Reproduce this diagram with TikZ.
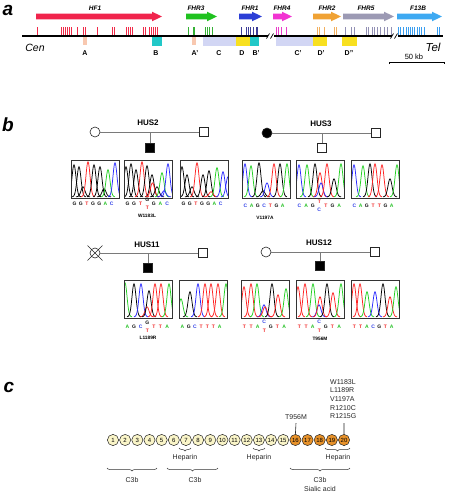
\documentclass[tikz,border=0pt]{standalone}
\usepackage{fontspec}
\setmainfont{Liberation Sans}
\usetikzlibrary{decorations.pathreplacing}
\definecolor{hfred}{HTML}{F0244C}
\definecolor{fhrthree}{HTML}{1FC21F}
\definecolor{fhrone}{HTML}{2B3ED6}
\definecolor{fhrfour}{HTML}{F233D2}
\definecolor{fhrtwo}{HTML}{F0A234}
\definecolor{fhrfive}{HTML}{9C9AB4}
\definecolor{fxiiib}{HTML}{3DA9F2}
\definecolor{tkred}{HTML}{F02A48}
\definecolor{tkgreen}{HTML}{35B035}
\definecolor{tkblue}{HTML}{3C3C96}
\definecolor{tkmag}{HTML}{E83CC8}
\definecolor{tkorange}{HTML}{F2B060}
\definecolor{tkgrey}{HTML}{9290B4}
\definecolor{tkltblue}{HTML}{3A9EF0}
\definecolor{bsalmon}{HTML}{F8C8B0}
\definecolor{bcyan}{HTML}{22C8C8}
\definecolor{blav}{HTML}{D2D6F4}
\definecolor{byellow}{HTML}{F8E020}
\definecolor{pale}{HTML}{FAF5C8}
\definecolor{dorange}{HTML}{E8922A}
\definecolor{tb}{HTML}{000000}
\definecolor{tr}{HTML}{FF2222}
\definecolor{tg}{HTML}{22D022}
\definecolor{tu}{HTML}{2A2AFF}
\definecolor{nA}{HTML}{22C022}
\definecolor{nC}{HTML}{3040E8}
\definecolor{nG}{HTML}{111111}
\definecolor{nT}{HTML}{F02828}
\definecolor{pedline}{HTML}{7A7A7A}

\newcommand\pk[4]{%
  \pgfmathsetmacro\pka{#1-7}\pgfmathsetmacro\pkb{#1+7}%
  \draw[color=#4,trace] plot[domain=\pka:\pkb,samples=25,smooth] (\x,{#2-#3*exp(-((\x-#1)^2)/8)});}
\newcommand\chrom[3]{%
  \begin{scope}
  \clip (#1,#2) rectangle ++(48,38);
  \foreach \p/\h/\c in {#3}{\pgfmathsetmacro\px{#1+\p}\pk{\px}{#2+36.8}{\h}{\c}}
  \end{scope}
  \draw[boxline] (#1,#2) rectangle ++(48,38);}
\newcommand\bases[4]{%
  \foreach[count=\i] \l/\c in {#4}{\node[nuc,text=\c] (q#1n\i) at ({#1+3.5+(\i-1)*#3},#2) {\l};}}
\newcommand\genearrow[4]{%
  \fill[#4] (#1,#3-2.8) -- (#2-10,#3-2.8) -- (#2-10,#3-4.8) -- (#2,#3) -- (#2-10,#3+4.8) -- (#2-10,#3+2.8) -- (#1,#3+2.8) -- cycle;}
\newcommand\ticks[2]{%
  \foreach \tx in {#2} \fill[#1] ({\tx-0.5},27) rectangle ({\tx+0.5},35.5);}

\begin{document}
\begin{tikzpicture}[x=1pt,y=-1pt,
  panel/.style={font=\fontsize{19}{20}\selectfont\bfseries\itshape},
  gene/.style={font=\fontsize{6.5}{7}\selectfont\bfseries\itshape},
  blbl/.style={font=\fontsize{7}{8}\selectfont\bfseries},
  hus/.style={font=\fontsize{8}{9}\selectfont\bfseries},
  mut/.style={font=\fontsize{4.8}{5}\selectfont\bfseries},
  nuc/.style={font=\fontsize{5}{5}\selectfont\bfseries,inner sep=0pt},
  trace/.style={line width=0.75pt},
  boxline/.style={draw=black!80,line width=0.75pt},
  ped/.style={draw=pedline,line width=0.75pt},
  pcirc/.style={circle,draw=black!85,line width=0.6pt,minimum size=10pt,inner sep=0pt},
  psq/.style={rectangle,draw=black!85,line width=0.6pt,minimum size=8.5pt,inner sep=0pt},
  dom/.style={circle,draw=black!85,line width=0.5pt,minimum size=11.2pt,inner sep=0pt,font=\fontsize{6}{6}\selectfont},
  clbl/.style={font=\fontsize{7}{8}\selectfont,text=black!85},
  brc/.style={decorate,decoration={brace,mirror,amplitude=3pt},line width=0.5pt,black!80}
]
\useasboundingbox (0,0) rectangle (448,496);

%================ panel a
\node[panel] (pa) at (8,10) {a};
\genearrow{36}{162}{16.5}{hfred}
\genearrow{186}{217}{16.5}{fhrthree}
\genearrow{239}{262}{16.5}{fhrone}
\genearrow{273}{292}{16.5}{fhrfour}
\genearrow{313}{341}{16.5}{fhrtwo}
\genearrow{343}{394}{16.5}{fhrfive}
\genearrow{397}{442}{16.5}{fxiiib}
\node[gene] (gHF) at (95,8.5) {HF1};
\node[gene] (gR3) at (196,8.5) {FHR3};
\node[gene] (gR1) at (250,8.5) {FHR1};
\node[gene] (gR4) at (282,8.5) {FHR4};
\node[gene] (gR2) at (327,8.5) {FHR2};
\node[gene] (gR5) at (366,8.5) {FHR5};
\node[gene] (gXB) at (418,8.5) {F13B};

% feature boxes
\fill[bsalmon] (83,37) rectangle (87,45);
\fill[bcyan] (152,37) rectangle (162,46);
\fill[bsalmon] (192,37) rectangle (196,45);
\fill[blav] (203,37) rectangle (236,46);
\fill[byellow] (236,37) rectangle (250,46);
\fill[bcyan] (250,37) rectangle (259,46);
\fill[blav] (276,37) rectangle (313,46);
\fill[byellow] (313,37) rectangle (327,46);
\fill[byellow] (342,37) rectangle (357,46);

% ticks
\ticks{tkred}{37,61,63,65,67,69,71,77,83,85,97,112,114.5,126,128,130,132,143,145,149,151,153,155,157}
\ticks{tkgreen}{188,193,194.5,205,207,209,212}
\ticks{tkblue}{241,246,248,250,253,256,257.5}
\ticks{tkmag}{276,278,281,286}
\ticks{tkorange}{317,319,324,334,336}
\ticks{tkgrey}{345,351,354,366,368,372,374,377,380,384,387,391}
\ticks{tkltblue}{398,400,403,406,408,410,412,414,417,419,421,424,437,439}

% chromosome line with breaks
\coordinate (cenend) at (22,36);
\coordinate (br1a) at (268,36);
\coordinate (br1b) at (274,36);
\coordinate (br2a) at (392,36);
\coordinate (br2b) at (398,36);
\coordinate (telend) at (443,36);
\draw[line width=1.6pt] (cenend) -- (br1a) (br1b) -- (br2a) (br2b) -- (telend);
\draw[line width=0.7pt] (266.5,38.5) -- (269.5,33.5) (270.5,38.5) -- (273.5,33.5);
\draw[line width=0.7pt] (390.5,38.5) -- (393.5,33.5) (394.5,38.5) -- (397.5,33.5);

\node[blbl] (lA) at (85,53) {A};
\node[blbl] (lB) at (156,53) {B};
\node[blbl] (lA2) at (195,53) {A'};
\node[blbl] (lC) at (219,53) {C};
\node[blbl] (lD) at (242,53) {D};
\node[blbl] (lB2) at (256,53) {B'};
\node[blbl] (lC2) at (298,53) {C'};
\node[blbl] (lD2) at (321,53) {D'};
\node[blbl] (lD3) at (349,53) {D''};
\node[font=\fontsize{10.5}{11}\selectfont\itshape] (cen) at (35,48) {Cen};
\node[font=\fontsize{11.5}{12}\selectfont\itshape] (tel) at (433,47) {Tel};
\coordinate (sb1) at (389,62);
\coordinate (sb2) at (444,62);
\draw[line width=0.7pt] ([yshift=-2pt]sb1) -- (sb1) -- (sb2) -- ([yshift=-2pt]sb2);
\node[font=\fontsize{7.5}{8}\selectfont] (kb) at (414,57) {50 kb};

%================ panel b
\node[panel] (pb) at (8,125) {b};

% HUS2
\node[hus] (h2) at (148,123) {HUS2};
\node[pcirc] (h2m) at (95,132) {};
\node[psq] (h2f) at (204,132) {};
\coordinate (h2j) at (150,132);
\node[psq,fill=black] (h2c) at (150,148) {};
\draw[ped] (h2m) -- (h2f);
\draw[ped] (h2j) -- (h2c);
\chrom{71}{160}{3/32/tb,8/30/tb,12/10/tb,17/35/tr,23/32/tb,29/30/tb,33/8/tb,37/27/tg,44/34/tu}
\chrom{124}{160}{2/30/tb,7/33/tb,12/27/tb,18/35/tr,23/31/tb,28/22/tb,28.5/14/tr,33/10/tb,38/24/tg,40/6/tu,44/33/tu}
\chrom{180}{160}{2/30/tb,7/22/tb,12/10/tb,17/34/tr,23/22/tb,29/26/tb,31/5/tr,37/29/tg,43/25/tu,48/20/tu}
\bases{71}{204}{6.2}{G/nG,G/nG,T/nT,G/nG,G/nG,A/nA,C/nC}
\bases{124}{204}{6.6}{G/nG,G/nG,T/nT,/nG,G/nG,A/nA,C/nC}
\bases{180}{204}{6.2}{G/nG,G/nG,T/nT,G/nG,G/nG,A/nA,C/nC}
\node[nuc,text=nG] (h2u) at (147.3,200) {G};
\node[nuc,text=nT] (h2d) at (147.3,208) {T};
\node[mut] (m2) at (147,216) {W1183L};

% HUS3
\node[hus] (h3) at (321,124) {HUS3};
\node[pcirc,fill=black] (h3m) at (267,133) {};
\node[psq] (h3f) at (376,133) {};
\coordinate (h3j) at (322,133);
\node[psq] (h3c) at (322,148) {};
\draw[ped] (h3m) -- (h3f);
\draw[ped] (h3j) -- (h3c);
\chrom{242}{160}{3/33/tu,9/31/tg,17/34/tb,21/6/tb,25/14/tu,32/33/tr,38/33/tb,45/33/tg}
\chrom{296}{160}{3/32/tu,11/32/tg,19/33/tb,24/24/tr,25/14/tu,31/33/tr,38/18/tb,45/33/tg}
\chrom{351}{160}{3/32/tu,12/31/tg,19/33/tb,24/33/tr,31/32/tr,39/18/tb,46/32/tg}
\bases{242}{206}{6.2}{C/nC,A/nA,G/nG,C/nC,T/nT,G/nG,A/nA}
\bases{296}{206}{6.6}{C/nC,A/nA,G/nG,/nG,T/nT,G/nG,A/nA}
\bases{351}{206}{6.2}{C/nC,A/nA,G/nG,T/nT,T/nT,G/nG,A/nA}
\node[nuc,text=nT] (h3u) at (319.3,202) {T};
\node[nuc,text=nC] (h3d) at (319.3,210) {C};
\node[mut] (m3) at (265,218) {V1197A};

% HUS11
\node[hus] (h11) at (147,245) {HUS11};
\node[pcirc] (h11m) at (95,253) {};
\draw[line width=0.6pt,black!85] ([shift={(-7.5,-7.5)}]h11m.center) -- ([shift={(7.5,7.5)}]h11m.center)
  ([shift={(-7.5,7.5)}]h11m.center) -- ([shift={(7.5,-7.5)}]h11m.center);
\node[psq] (h11f) at (203,253) {};
\coordinate (h11j) at (148,253);
\node[psq,fill=black] (h11c) at (148,268) {};
\draw[ped] (h11m) -- (h11f);
\draw[ped] (h11j) -- (h11c);
\chrom{124}{280}{1/34/tg,10/33/tb,17/33/tu,23/10/tr,25/26/tb,31/33/tr,37/33/tr,45/33/tg}
\chrom{179}{280}{2/18/tg,11/25/tb,19/33/tu,26/33/tr,32/33/tr,39/33/tr,47/33/tg}
\bases{124}{327}{6.6}{A/nA,G/nG,C/nC,/nG,T/nT,T/nT,A/nA}
\bases{179}{327}{6.2}{A/nA,G/nG,C/nC,T/nT,T/nT,T/nT,A/nA}
\node[nuc,text=nG] (h11u) at (147.3,323) {G};
\node[nuc,text=nT] (h11d) at (147.3,331) {T};
\node[mut] (m11) at (148,338) {L1189R};

% HUS12
\node[hus] (h12) at (319,243) {HUS12};
\node[pcirc] (h12m) at (266,252) {};
\node[psq] (h12f) at (375,252) {};
\coordinate (h12j) at (320,252);
\node[psq,fill=black] (h12c) at (320,266) {};
\draw[ped] (h12m) -- (h12f);
\draw[ped] (h12j) -- (h12c);
\chrom{241}{280}{3/30/tr,10/33/tr,16/33/tg,23/12/tu,24/10/tr,31/33/tb,37/22/tr,45/28/tg}
\chrom{296}{280}{2/30/tr,9/33/tr,17/33/tg,23/12/tu,24/20/tr,31/33/tb,37/24/tr,45/33/tg}
\chrom{351}{280}{3/33/tr,9/33/tr,16/25/tg,24/25/tu,32/33/tb,39/20/tr,45/30/tg}
\bases{241}{327}{6.6}{T/nT,T/nT,A/nA,/nG,G/nG,T/nT,A/nA}
\bases{296}{327}{6.6}{T/nT,T/nT,A/nA,/nG,G/nG,T/nT,A/nA}
\bases{351}{327}{6.2}{T/nT,T/nT,A/nA,C/nC,G/nG,T/nT,A/nA}
\node[nuc,text=nC] (h12u1) at (264.3,322) {C};
\node[nuc,text=nT] (h12d1) at (264.3,331) {T};
\node[nuc,text=nC] (h12u2) at (319.3,322) {C};
\node[nuc,text=nT] (h12d2) at (319.3,331) {T};
\node[mut] (m12) at (320,339) {T956M};

%================ panel c
\node[panel] (pc) at (9,387) {c};
\foreach \i in {1,...,15}
  \node[dom,fill=pale] (d\i) at ({113+12.16*(\i-1)},440) {\i};
\foreach \i in {16,...,20}
  \node[dom,fill=dorange] (d\i) at ({113+12.16*(\i-1)},440) {\i};

\node[clbl] (t956) at (296,417) {T956M};
\draw[line width=0.6pt,black!85] (t956.south) -- (d16.north);
\node[clbl,align=left,anchor=north west,inner sep=0pt,font=\fontsize{7}{8.7}\selectfont] (mlist) at (330,379)
  {W1183L\\L1189R\\V1197A\\R1210C\\R1215G};
\coordinate (mlb) at (344,423);
\draw[line width=0.6pt,black!85] (mlb) -- (d20.north);

\draw[brc] (179,448) -- (191,448);
\node[clbl] (hp1) at (185,458) {Heparin};
\draw[brc] (253,448) -- (265,448);
\node[clbl] (hp2) at (259,458) {Heparin};
\draw[brc] (325,448) -- (350,448);
\node[clbl] (hp3) at (338,458) {Heparin};
\draw[brc] (107,468) -- (157,468);
\node[clbl] (c3a) at (132,480) {C3b};
\draw[brc] (167,468) -- (218,468);
\node[clbl] (c3b) at (195,480) {C3b};
\draw[brc] (290,468) -- (350,468);
\node[clbl] (c3c) at (320,480) {C3b};
\node[clbl] (sia) at (320,489) {Sialic acid};
\end{tikzpicture}
\end{document}
